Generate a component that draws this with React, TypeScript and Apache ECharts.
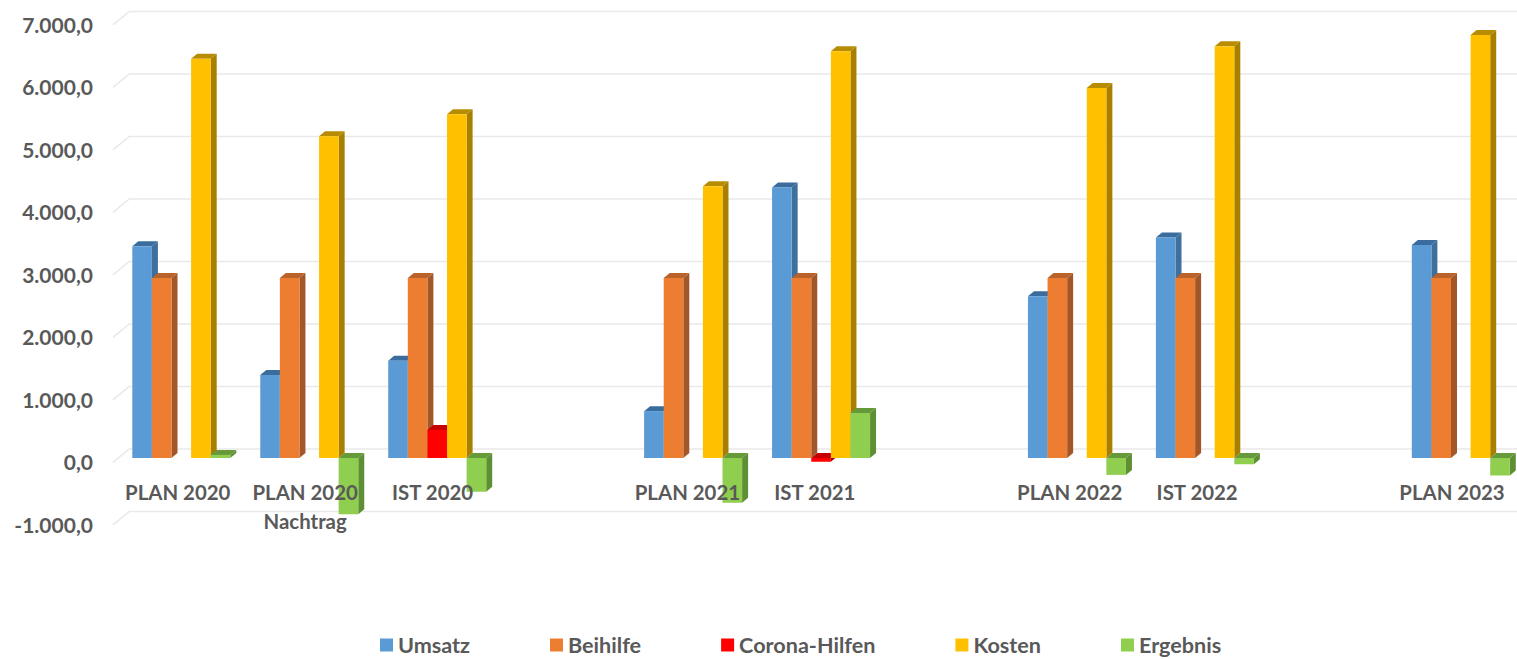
import React, { useEffect, useRef } from "react";
import * as echarts from "echarts";

const categories = ["PLAN 2020", "PLAN 2020\nNachtrag", "IST 2020", "", "PLAN 2021", "IST 2021", "", "PLAN 2022", "IST 2022", "", "PLAN 2023"];
const umsatz = [3390, 1330, 1555, null, 750, 4330, null, 2590, 3530, null, 3410];
const beihilfe = [2880, 2880, 2880, null, 2880, 2880, null, 2880, 2880, null, 2880];
const corona = [null, null, 450, null, null, -60, null, null, null, null, null];
const kosten = [6390, 5150, 5500, null, 4350, 6510, null, 5920, 6590, null, 6770];
const ergebnis = [50, -900, -540, null, -715, 720, null, -270, -100, null, -280];
const ticks = [-1000, 0, 1000, 2000, 3000, 4000, 5000, 6000, 7000];

const FONT = "Lato";
const TEXT = "#595959";
const DX = 6;
const DY = 5;
const BAR = 19.6;

const seriesDefs = [
  { name: "Umsatz", values: umsatz, front: "#5B9BD5", side: "#3F6F9C", top: "#3A6C9E" },
  { name: "Beihilfe", values: beihilfe, front: "#ED7D31", side: "#A3562A", top: "#B9622A" },
  { name: "Corona-Hilfen", values: corona, front: "#FF0000", side: "#A80000", top: "#C40000" },
  { name: "Kosten", values: kosten, front: "#FFC000", side: "#A88000", top: "#B88C00" },
  { name: "Ergebnis", values: ergebnis, front: "#8FCE4E", side: "#5E8F35", top: "#66993A" },
];

function fmt(v: number) {
  const s = Math.abs(v).toString().replace(/\B(?=(\d{3})+$)/g, ".");
  return (v < 0 ? "-" : "") + s + ",0";
}

function barRenderer(idx: number, def: (typeof seriesDefs)[number]) {
  return (_: any, api: any) => {
    const cat = api.value(0);
    const val = api.value(1);
    const band = api.size([1, 0])[0];
    const left = api.coord([cat, 0])[0] - band / 2 + (band - BAR * 5) / 2 + idx * BAR;
    const right = left + BAR;
    const y0 = api.coord([cat, 0])[1];
    const yv = api.coord([cat, val])[1];
    const up = Math.min(y0, yv);
    const down = Math.max(y0, yv);
    const poly = (pts: number[][], fill: string) => ({
      type: "polygon",
      shape: { points: pts },
      style: { fill, stroke: null },
    });
    return {
      type: "group",
      children: [
        poly([[right, up], [right + DX, up - DY], [right + DX, down - DY], [right, down]], def.side),
        poly([[left, up], [left + DX, up - DY], [right + DX, up - DY], [right, up]], def.top),
        poly([[left, up], [right, up], [right, down], [left, down]], def.front),
      ],
    };
  };
}

function wallRenderer(_: any, api: any) {
  const y = api.coord([0, api.value(0)])[1];
  const backY = y - 9;
  return {
    type: "group",
    children: [
      {
        type: "polyline",
        shape: { points: [[113, backY + 13.3], [129.3, backY], [1517, backY]] },
        style: { stroke: "#E9E9E9", lineWidth: 1.6, fill: null },
      },
    ],
  };
}

export default function App() {
  const ref = useRef<HTMLDivElement | null>(null);
  useEffect(() => {
    const chart = echarts.init(ref.current as HTMLDivElement, null, { renderer: "svg" });
    chart.setOption({
      animation: false,
      backgroundColor: "#FFFFFF",
      grid: [
        { left: 114, width: 1401.7, top: 20.5, height: 500 },
        { left: 117.33, width: 1407.45, top: 20.5, height: 500 },
      ],
      xAxis: [
        {
          type: "category",
          gridIndex: 0,
          data: categories,
          z: 10,
          position: "bottom",
          offset: -62.5,
          axisLine: { show: false, onZero: false },
          axisTick: { show: false },
          axisLabel: {
            interval: 0,
            margin: 19,
            color: TEXT,
            fontFamily: FONT,
            fontWeight: "bold",
            fontSize: 20.4,
            lineHeight: 29,
          },
        },
        {
          type: "category",
          gridIndex: 1,
          data: categories,
          show: false,
        },
      ],
      yAxis: [
        {
          type: "value",
          gridIndex: 0,
          min: -1000,
          max: 7000,
          interval: 1000,
          z: 10,
          axisLine: { show: false },
          axisTick: { show: false },
          splitLine: { show: false },
          axisLabel: {
            margin: 21,
            verticalAlign: "top",
            lineHeight: 7,
            color: TEXT,
            fontFamily: FONT,
            fontWeight: "bold",
            fontSize: 21,
            formatter: (v: number) => fmt(v),
          },
        },
        {
          type: "value",
          gridIndex: 1,
          min: -1000,
          max: 7000,
          interval: 1000,
          show: false,
          splitLine: { show: false },
        },
      ],
      legend: {
        left: 380,
        top: 634,
        padding: 0,
        itemWidth: 13,
        itemHeight: 13,
        itemGap: 80,
        icon: "rect",
        data: seriesDefs.map((d) => d.name),
        selectedMode: false,
        textStyle: { color: TEXT, fontFamily: FONT, fontWeight: "bold", fontSize: 21.6 },
      },
      series: [
        {
          type: "custom",
          name: "Raster",
          xAxisIndex: 0,
          yAxisIndex: 0,
          z: 0,
          silent: true,
          encode: { y: 0 },
          data: ticks.map((t) => [t]),
          renderItem: wallRenderer,
        },
        ...seriesDefs.map((def, idx) => ({
          type: "custom",
          name: def.name,
          xAxisIndex: 1,
          yAxisIndex: 1,
          z: 1 + idx,
          itemStyle: { color: def.front },
          encode: { x: 0, y: 1 },
          data: def.values
            .map((v, i) => [i, v])
            .filter((d) => d[1] !== null),
          renderItem: barRenderer(idx, def),
        })),
      ],
    });
    return () => chart.dispose();
  }, []);
  return (
    <div style={{ position: "absolute", left: 0, top: 0, width: 1517, height: 659, overflow: "hidden" }}>
      <div ref={ref} style={{ width: 1540, height: 659 }} />
    </div>
  );
}
